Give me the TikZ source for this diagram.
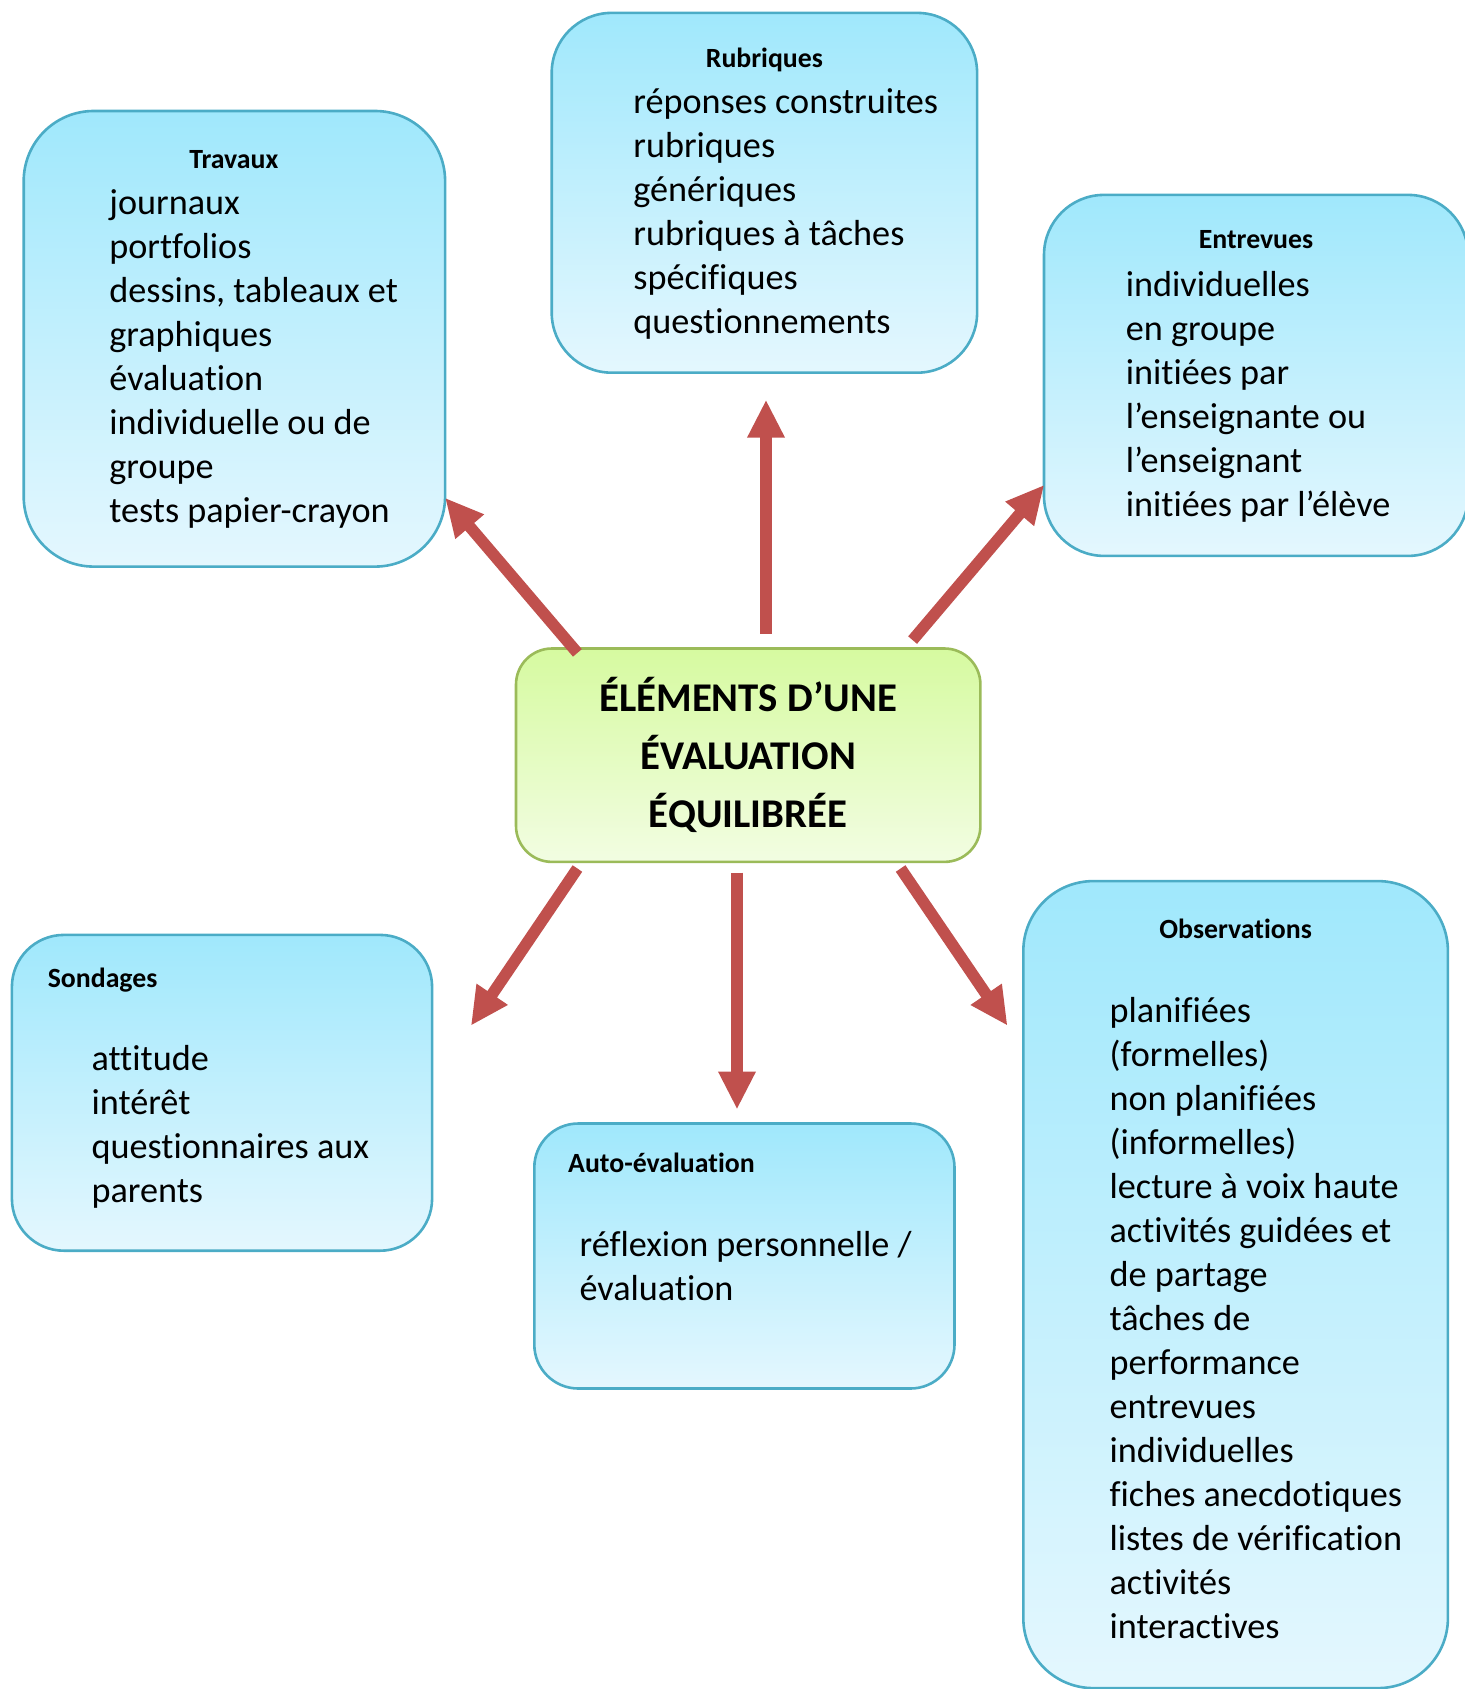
\documentclass[tikz,border=0pt]{standalone}
\usepackage{fontspec}
\setmainfont{Carlito}[Ligatures=NoCommon]
\usetikzlibrary{arrows.meta}

\definecolor{bordbleu}{HTML}{4BACC6}
\definecolor{hautbleu}{HTML}{A0E8FC}
\definecolor{basbleu}{HTML}{E4F7FE}
\definecolor{bordvert}{HTML}{9BBB59}
\definecolor{hautvert}{HTML}{D6FAA0}
\definecolor{basvert}{HTML}{F2FDE2}
\definecolor{fleche}{HTML}{C0504D}

\begin{document}
\begin{tikzpicture}[
    x=1pt,
    y=-1pt,
    boite/.style={
        draw=bordbleu,
        line width=1.3pt,
        top color=hautbleu,
        bottom color=basbleu,
        inner sep=0pt,
        outer sep=0pt
    },
    centrale/.style={
        draw=bordvert,
        line width=1.3pt,
        top color=hautvert,
        bottom color=basvert,
        rounded corners=18pt,
        inner sep=0pt,
        outer sep=0pt,
        align=center,
        font={\fontsize{20.4pt}{29.1pt}\selectfont\bfseries}
    },
    titre/.style={
        inner sep=0pt,
        font={\fontsize{13.9pt}{16pt}\selectfont\bfseries}
    },
    liste/.style={
        inner sep=0pt,
        align=left,
        anchor=base west,
        font={\fontsize{18.1pt}{22pt}\selectfont}
    },
    flechelarge/.style={
        draw=fleche,
        line width=5.8pt,
        -{Triangle[width=17.5pt,length=19pt]}
    }
]

\useasboundingbox (0,0) rectangle (732,844.5);

% =================================================
% Les boites
% =================================================

% Noeud central
\node[centrale, minimum width=232.2pt, minimum height=106.7pt]
    (centre) at (374.1,377.6)
    {\raisebox{1pt}{ÉLÉMENTS D’UNE}\\\raisebox{1pt}{ÉVALUATION}\\\raisebox{1pt}{ÉQUILIBRÉE}};

% En haut
\node[boite, rounded corners=35pt, minimum width=210.7pt, minimum height=227.8pt]
    (travaux) at (117.2,169.4) {};
\node[boite, rounded corners=30pt, minimum width=212.7pt, minimum height=179.9pt]
    (rubriques) at (382.2,96.4) {};
\node[boite, rounded corners=30pt, minimum width=212pt, minimum height=180.5pt]
    (entrevues) at (628,187.7) {};

% En bas
\node[boite, rounded corners=26pt, minimum width=210.1pt, minimum height=157.9pt]
    (sondages) at (111,546.4) {};
\node[boite, rounded corners=22pt, minimum width=210.1pt, minimum height=132.5pt]
    (autoeval) at (372.2,628) {};
\node[boite, rounded corners=35pt, minimum width=212.3pt, minimum height=403.5pt]
    (observations) at (617.8,642.3) {};

% =================================================
% Les textes (ancre : ligne de base de la derniere ligne)
% =================================================

\node[titre, anchor=base] (travaux-titre) at (116.9,84.4) {Travaux};
\node[liste] (travaux-liste) at (54.5,261.5)
    {journaux\\portfolios\\dessins, tableaux et\\graphiques\\évaluation\\%
     individuelle ou de\\groupe\\tests papier-crayon};

\node[titre, anchor=base] (rubriques-titre) at (382.2,33.8) {Rubriques};
\node[liste] (rubriques-liste) at (316.5,167)
    {réponses construites\\rubriques\\génériques\\rubriques à tâches\\%
     spécifiques\\questionnements};

\node[titre, anchor=base] (entrevues-titre) at (628,124.4) {Entrevues};
\node[liste] (entrevues-liste) at (562.7,258.4)
    {individuelles\\en groupe\\initiées par\\l’enseignante ou\\l’enseignant\\%
     initiées par l’élève};

\node[titre, anchor=base west] (sondages-titre) at (23.7,493.8) {Sondages};
\node[liste] (sondages-liste) at (45.6,601.2)
    {attitude\\intérêt\\questionnaires aux\\parents};

\node[titre, anchor=base west] (autoeval-titre) at (283.9,586.4) {Auto-évaluation};
\node[liste] (autoeval-liste) at (289.6,650.3)
    {réflexion personnelle /\\évaluation};

\node[titre, anchor=base] (observations-titre) at (617.8,469.2) {Observations};
\node[liste] (observations-liste) at (554.6,819)
    {planifiées\\(formelles)\\non planifiées\\(informelles)\\lecture à voix haute\\%
     activités guidées et\\de partage\\tâches de\\performance\\entrevues\\%
     individuelles\\fiches anecdotiques\\listes de vérification\\activités\\%
     interactives};

% =================================================
% Les fleches
% =================================================

\draw[flechelarge]
    ([xshift=30.7pt,yshift=-2.2pt]centre.north west)
    -- ([yshift=34.4pt]travaux.south east);
\draw[flechelarge]
    ([xshift=8.9pt,yshift=7.5pt]centre.north)
    -- ([xshift=0.8pt,yshift=-13.5pt]rubriques.south);
\draw[flechelarge]
    ([xshift=-33.9pt,yshift=4.2pt]centre.north east)
    -- ([xshift=0.1pt,yshift=35.5pt]entrevues.south west);
\draw[flechelarge]
    ([xshift=30.7pt,yshift=-3.3pt]centre.south west)
    -- ([xshift=19.4pt,yshift=-45.4pt]sondages.north east);
\draw[flechelarge]
    ([xshift=-5.6pt,yshift=-5.4pt]centre.south)
    -- ([xshift=-3.7pt,yshift=7pt]autoeval.north);
\draw[flechelarge]
    ([xshift=-39.9pt,yshift=-3.3pt]centre.south east)
    -- ([xshift=-7.9pt,yshift=-72.3pt]observations.north west);

\end{tikzpicture}
\end{document}
